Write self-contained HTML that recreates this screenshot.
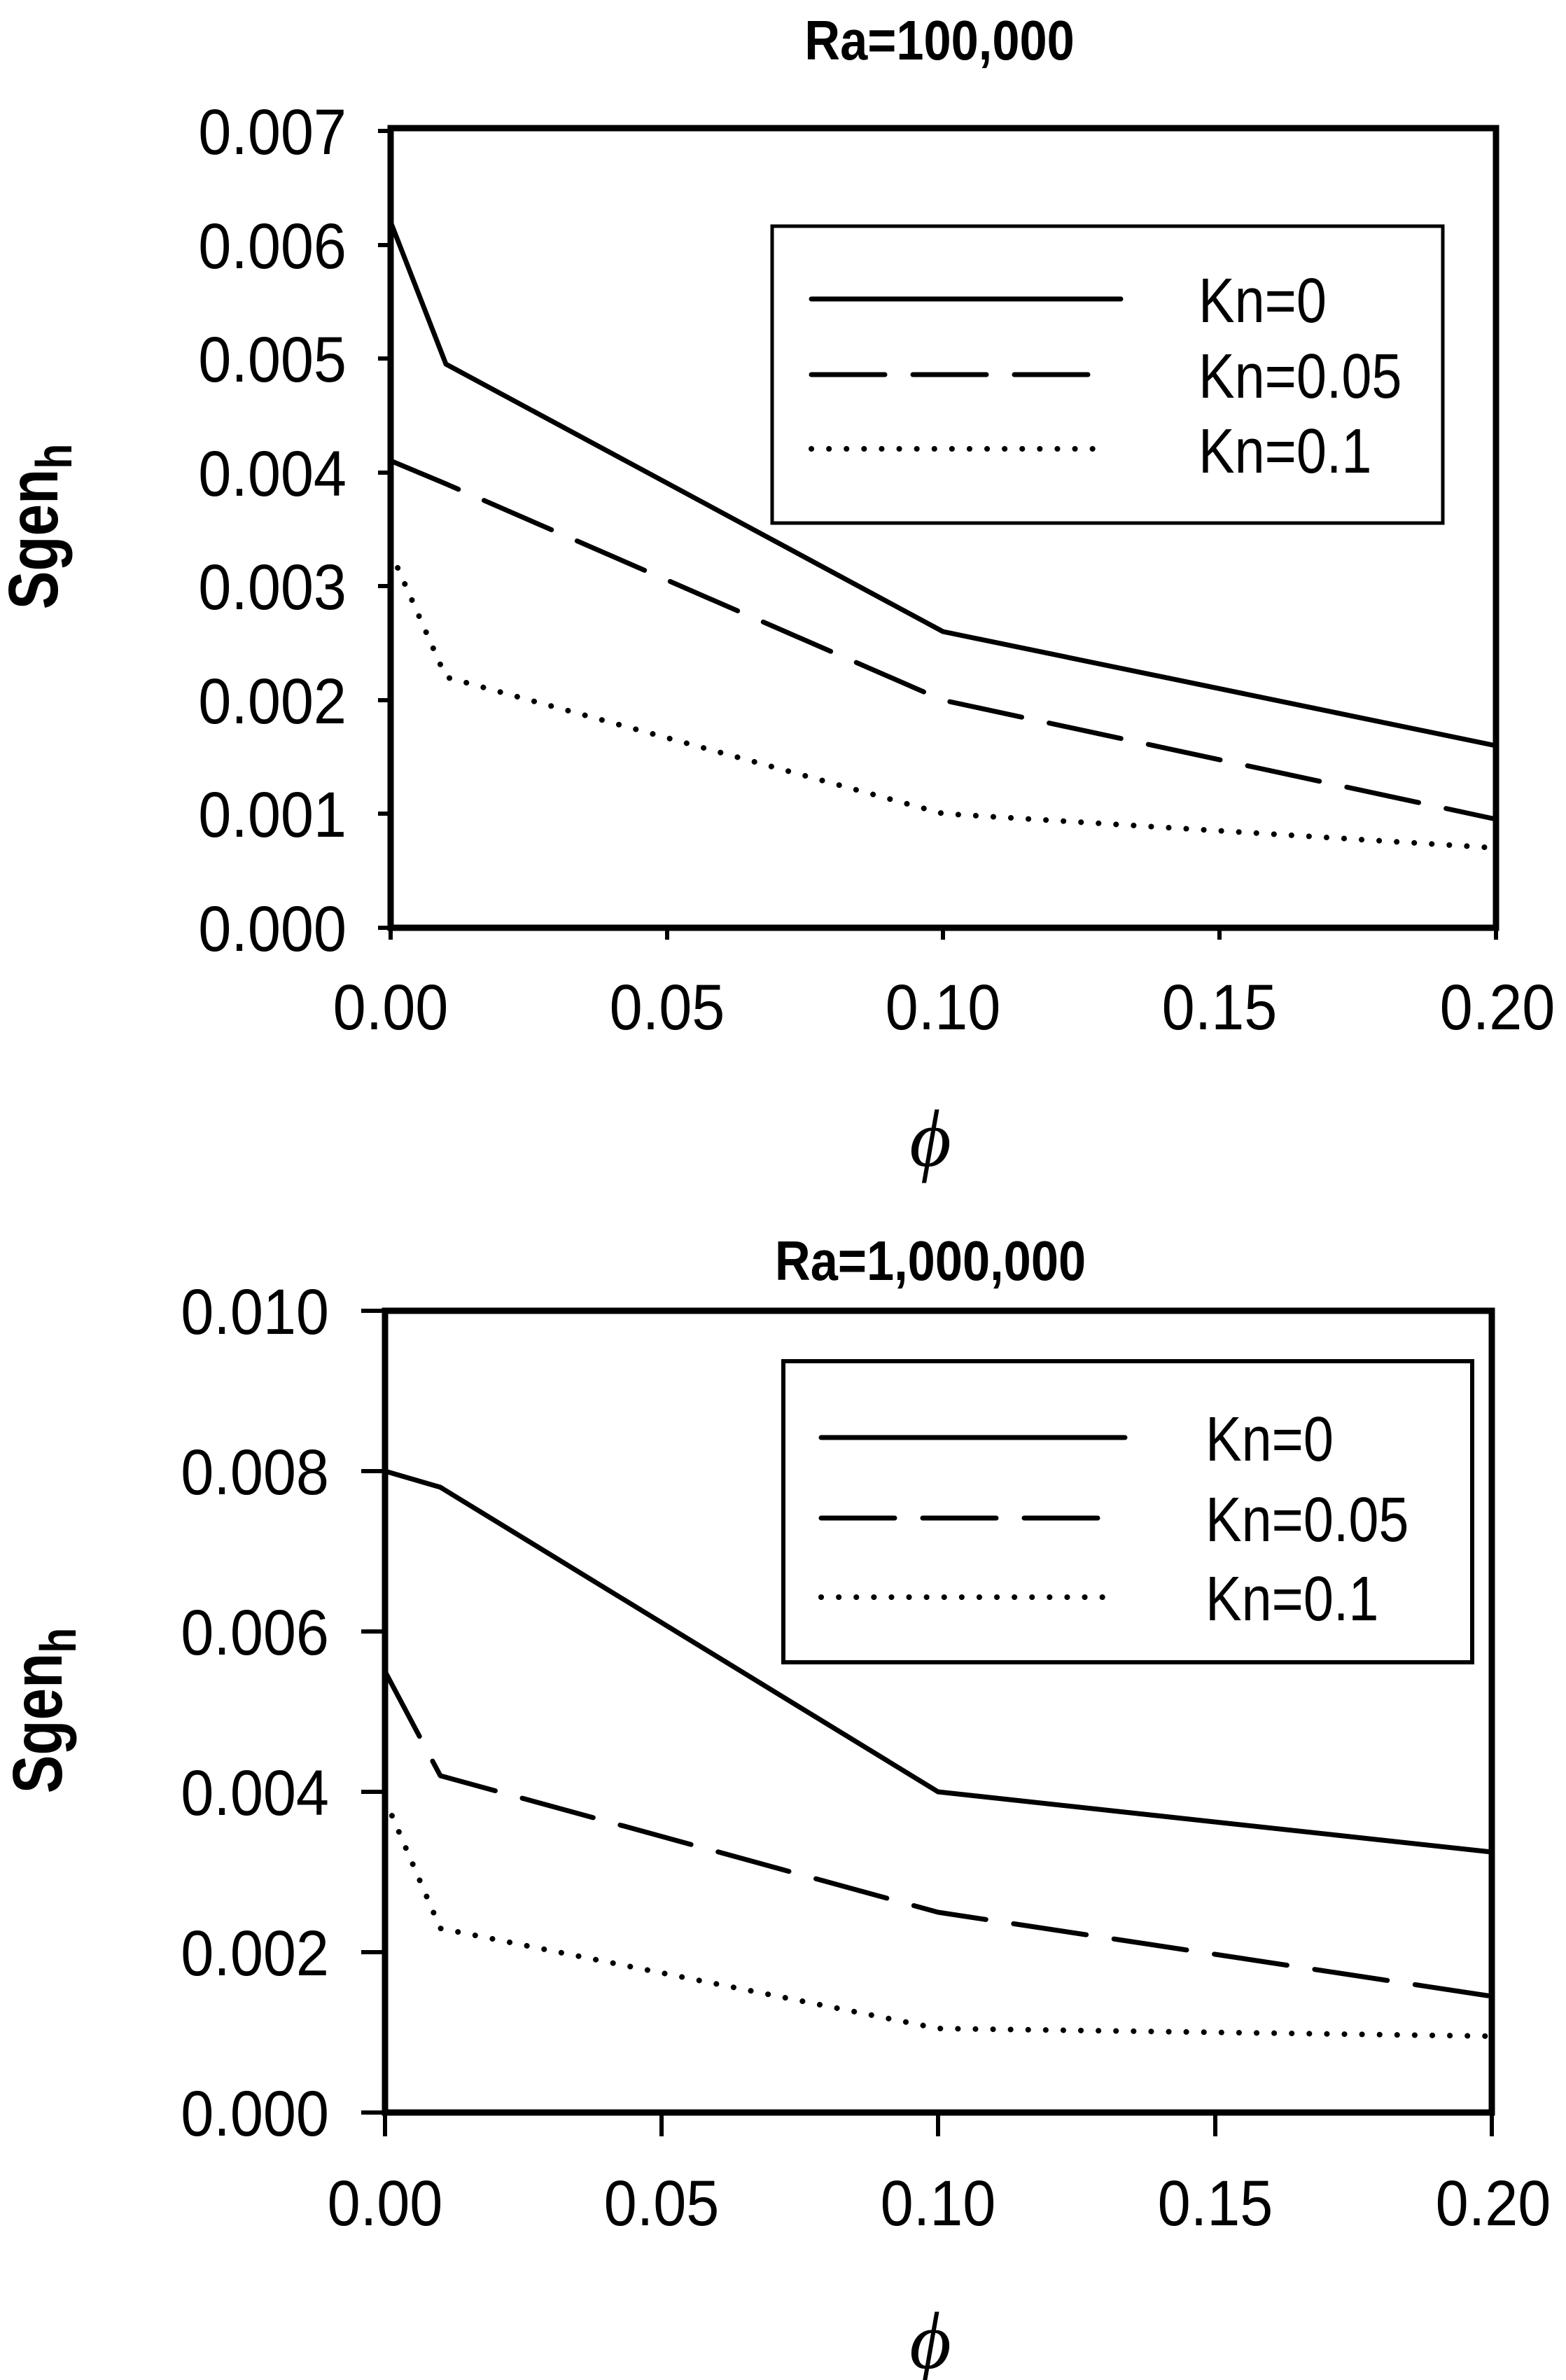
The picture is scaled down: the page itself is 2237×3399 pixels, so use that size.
<!DOCTYPE html>
<html><head><meta charset="utf-8"><style>
html,body{margin:0;padding:0;background:#fff;}
svg{display:block;}
text{font-family:"Liberation Sans",Arial,sans-serif;fill:#000;}
</style></head><body>
<svg width="2237" height="3399" viewBox="0 0 2237 3399" xmlns="http://www.w3.org/2000/svg">
<!-- ===== TOP CHART ===== -->
<text transform="translate(1342,85) scale(0.88,1)" font-size="80" font-weight="bold" text-anchor="middle">Ra=100,000</text>
<rect x="558" y="183" width="1579" height="1142" fill="none" stroke="#000" stroke-width="9"/>
<g stroke="#000" stroke-width="6">
<line x1="540" y1="187" x2="558" y2="187"/><line x1="540" y1="350" x2="558" y2="350"/>
<line x1="540" y1="512" x2="558" y2="512"/><line x1="540" y1="675" x2="558" y2="675"/>
<line x1="540" y1="837" x2="558" y2="837"/><line x1="540" y1="1000" x2="558" y2="1000"/>
<line x1="540" y1="1162" x2="558" y2="1162"/><line x1="540" y1="1325" x2="558" y2="1325"/>
<line x1="558" y1="1325" x2="558" y2="1342"/><line x1="953" y1="1325" x2="953" y2="1342"/>
<line x1="1347" y1="1325" x2="1347" y2="1342"/><line x1="1742" y1="1325" x2="1742" y2="1342"/>
<line x1="2137" y1="1325" x2="2137" y2="1342"/>
</g>
<g font-size="92" text-anchor="end" transform="translate(495,0) scale(0.92,1)">
<text x="0" y="220">0.007</text><text x="0" y="383">0.006</text>
<text x="0" y="545">0.005</text><text x="0" y="708">0.004</text>
<text x="0" y="870">0.003</text><text x="0" y="1033">0.002</text>
<text x="0" y="1195">0.001</text><text x="0" y="1358">0.000</text>
</g>
<g font-size="92" text-anchor="middle">
<text transform="translate(558,1470) scale(0.92,1)">0.00</text>
<text transform="translate(953,1470) scale(0.92,1)">0.05</text>
<text transform="translate(1347,1470) scale(0.92,1)">0.10</text>
<text transform="translate(1742,1470) scale(0.92,1)">0.15</text>
<text transform="translate(2139,1470) scale(0.92,1)">0.20</text>
</g>
<text transform="translate(82,752) rotate(-90) scale(0.82,1)" font-size="100" font-weight="bold" text-anchor="middle">Sgen<tspan font-size="72" dy="20">h</tspan></text>
<text x="1329" y="1665" font-size="115" font-style="italic" text-anchor="middle" style="font-family:'Liberation Serif',serif">ϕ</text>
<g fill="none" stroke="#000" stroke-width="7" stroke-linejoin="round">
<polyline points="558,317 637,520 1347,902 2137,1065"/>
<polyline points="558,658 637,691 1347,1000 2137,1170" stroke-dasharray="105 40" stroke-linecap="round"/>
<polyline points="558,788 637,967 1347,1162 2137,1211" stroke-width="8" stroke-dasharray="0.1 25" stroke-linecap="round"/>
</g>
<rect x="1103" y="323" width="958" height="424" fill="#fff" stroke="#000" stroke-width="5"/>
<g fill="none" stroke="#000" stroke-width="7" stroke-linecap="round">
<line x1="1159" y1="427" x2="1601" y2="427"/>
<line x1="1159" y1="535" x2="1560" y2="535" stroke-dasharray="105 40"/>
<line x1="1159" y1="641" x2="1585" y2="641" stroke-width="8" stroke-dasharray="0.1 25"/>
</g>
<g font-size="90">
<text transform="translate(1712,460) scale(0.86,1)">Kn=0</text>
<text transform="translate(1712,568) scale(0.86,1)">Kn=0.05</text>
<text transform="translate(1712,675) scale(0.86,1)">Kn=0.1</text>
</g>
<!-- ===== BOTTOM CHART ===== -->
<text transform="translate(1329,1828) scale(0.88,1)" font-size="80" font-weight="bold" text-anchor="middle">Ra=1,000,000</text>
<rect x="550" y="1872" width="1581" height="1145" fill="none" stroke="#000" stroke-width="9"/>
<g stroke="#000" stroke-width="6">
<line x1="516" y1="1872" x2="550" y2="1872"/><line x1="516" y1="2101" x2="550" y2="2101"/>
<line x1="516" y1="2330" x2="550" y2="2330"/><line x1="516" y1="2559" x2="550" y2="2559"/>
<line x1="516" y1="2788" x2="550" y2="2788"/><line x1="516" y1="3017" x2="550" y2="3017"/>
<line x1="550" y1="3017" x2="550" y2="3051"/><line x1="945" y1="3017" x2="945" y2="3051"/>
<line x1="1340" y1="3017" x2="1340" y2="3051"/><line x1="1736" y1="3017" x2="1736" y2="3051"/>
<line x1="2131" y1="3017" x2="2131" y2="3051"/>
</g>
<g font-size="92" text-anchor="end" transform="translate(470,0) scale(0.92,1)">
<text x="0" y="1905">0.010</text><text x="0" y="2134">0.008</text>
<text x="0" y="2363">0.006</text><text x="0" y="2592">0.004</text>
<text x="0" y="2821">0.002</text><text x="0" y="3050">0.000</text>
</g>
<g font-size="92" text-anchor="middle">
<text transform="translate(550,3178) scale(0.92,1)">0.00</text>
<text transform="translate(945,3178) scale(0.92,1)">0.05</text>
<text transform="translate(1340,3178) scale(0.92,1)">0.10</text>
<text transform="translate(1736,3178) scale(0.92,1)">0.15</text>
<text transform="translate(2133,3178) scale(0.92,1)">0.20</text>
</g>
<text transform="translate(88,2443) rotate(-90) scale(0.82,1)" font-size="100" font-weight="bold" text-anchor="middle">Sgen<tspan font-size="72" dy="20">h</tspan></text>
<text x="1329" y="3382" font-size="115" font-style="italic" text-anchor="middle" style="font-family:'Liberation Serif',serif">ϕ</text>
<g fill="none" stroke="#000" stroke-width="7" stroke-linejoin="round">
<polyline points="550,2101 629,2124 1340,2559 2131,2645"/>
<polyline points="550,2387 629,2536 1340,2731 2131,2851" stroke-dasharray="105 40" stroke-linecap="round"/>
<polyline points="550,2570 629,2754 1340,2897 2131,2908" stroke-width="8" stroke-dasharray="0.1 25" stroke-linecap="round"/>
</g>
<rect x="1119" y="1944" width="984" height="430" fill="#fff" stroke="#000" stroke-width="6"/>
<g fill="none" stroke="#000" stroke-width="7" stroke-linecap="round">
<line x1="1173" y1="2053" x2="1607" y2="2053"/>
<line x1="1173" y1="2168" x2="1575" y2="2168" stroke-dasharray="105 40"/>
<line x1="1173" y1="2281" x2="1595" y2="2281" stroke-width="8" stroke-dasharray="0.1 25"/>
</g>
<g font-size="90">
<text transform="translate(1722,2086) scale(0.86,1)">Kn=0</text>
<text transform="translate(1722,2201) scale(0.86,1)">Kn=0.05</text>
<text transform="translate(1722,2314) scale(0.86,1)">Kn=0.1</text>
</g>
</svg>
</body></html>
